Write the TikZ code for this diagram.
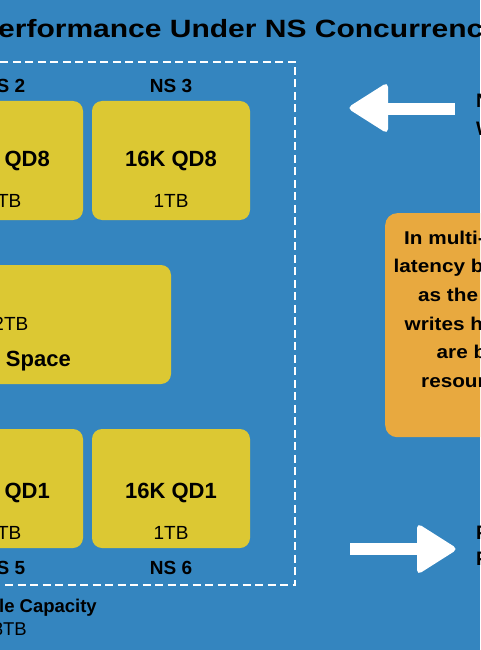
\documentclass[tikz,border=0pt]{standalone}
\usepackage{fontspec}
\setmainfont{Liberation Sans}
\definecolor{bgblue}{HTML}{3485BF}
\definecolor{boxyellow}{HTML}{DCC833}
\definecolor{noteorange}{HTML}{E8A93F}
\newcommand\notewide[1]{\scalebox{1.12}[1]{#1}}
\begin{document}
\begin{tikzpicture}[x=1pt,y=-1pt,
  nsbox/.style={fill=boxyellow, rounded corners=10pt, inner sep=0pt, minimum width=158pt, minimum height=119pt},
  nslabel/.style={font=\fontsize{19}{22}\selectfont\bfseries, inner sep=0pt, anchor=base},
  qdtext/.style={font=\fontsize{22}{26}\selectfont\bfseries, inner sep=0pt, anchor=base},
  sizetext/.style={font=\fontsize{19}{22}\selectfont, inner sep=0pt, anchor=base},
  titletext/.style={font=\fontsize{25}{30}\selectfont\bfseries, inner sep=0pt, anchor=base west},
  sidetext/.style={font=\fontsize{19.5}{23}\selectfont\bfseries, inner sep=0pt, anchor=base west},
  notetext/.style={font=\fontsize{18.5}{22}\selectfont\bfseries, inner sep=0pt, anchor=base west},
  bigarrow/.style={fill=white}
]
\useasboundingbox (0,0) rectangle (480,650);
\fill[bgblue] (0,0) rectangle (480,650);
\begin{scope}
\clip (0,0) rectangle (480,650);

% title
\node[titletext] (title) at (-22,38) {\scalebox{1.2}[1]{Performance Under NS Concurrency}};

% dashed group
\node[draw=white, line width=2.5pt, dash pattern=on 8pt off 4.5pt, inner sep=0pt,
      minimum width=565pt, minimum height=523pt] (group) at (12.5,323.5) {};

% top row
\node[nsbox] (ns2) at (4,160.5) {};
\node[nsbox] (ns3) at (171,160.5) {};
\node[nslabel] (ns2lbl) at (4,93) {NS 2};
\node[nslabel] (ns3lbl) at (171,93) {NS 3};
\node[qdtext] (ns2qd) at (4,166) {16K QD8};
\node[qdtext] (ns3qd) at (171,166) {16K QD8};
\node[sizetext] (ns2sz) at (4,207.5) {1TB};
\node[sizetext] (ns3sz) at (171,207.5) {1TB};

% middle space box
\node[nsbox, minimum width=412pt] (space) at (-35,324.5) {};
\node[sizetext, anchor=base east] (spacesz) at (28.5,330.7) {2TB};
\node[qdtext, anchor=base east] (spacelbl) at (71,366) {Free\hspace{9pt}Space};

% bottom row
\node[nsbox] (ns5) at (4,488.5) {};
\node[nsbox] (ns6) at (171,488.5) {};
\node[qdtext] (ns5qd) at (4,498.7) {16K QD1};
\node[qdtext] (ns6qd) at (171,498.7) {16K QD1};
\node[sizetext] (ns5sz) at (4,539) {1TB};
\node[sizetext] (ns6sz) at (171,539) {1TB};
\node[nslabel] (ns5lbl) at (4,574) {NS 5};
\node[nslabel] (ns6lbl) at (171,574) {NS 6};

% capacity caption
\node[nslabel, font=\fontsize{18.5}{22}\selectfont\bfseries, anchor=base east] (cap) at (97,612.7) {Usable Capacity};
\node[sizetext, font=\fontsize{18.5}{22}\selectfont, anchor=base east] (capsz) at (27,635) {8TB};

% left-pointing arrow
\fill[bigarrow] (385,103) rectangle (455,115);
\fill[bigarrow, rounded corners=5pt] (347,108) -- (388,82) -- (388,134) -- cycle;
\node[sidetext] (toptxt1) at (476,107) {Noisy};
\node[sidetext] (toptxt2) at (476,135.5) {Writes};

% right-pointing arrow
\fill[bigarrow] (350,543) rectangle (420,555);
\fill[bigarrow, rounded corners=5pt] (417,523) -- (417,575) -- (458,549) -- cycle;
\node[sidetext] (bottxt1) at (476,539) {Performance};
\node[sidetext] (bottxt2) at (476,565) {Penalty};

% note box
\node[fill=noteorange, rounded corners=12pt, inner sep=0pt, minimum width=220pt, minimum height=224pt, anchor=north west] (note) at (385,213) {};
\node[notetext] (n1) at (404,244) {\notewide{In multi-NS}};
\node[notetext] (n2) at (393.5,272.7) {\notewide{latency builds}};
\node[notetext] (n3) at (418,301.4) {\notewide{as the random}};
\node[notetext] (n4) at (404.5,330.1) {\notewide{writes hit}};
\node[notetext] (n5) at (436.5,358.8) {\notewide{are bound}};
\node[notetext] (n6) at (421,387.5) {\notewide{resources}};
\end{scope}
\end{tikzpicture}
\end{document}
